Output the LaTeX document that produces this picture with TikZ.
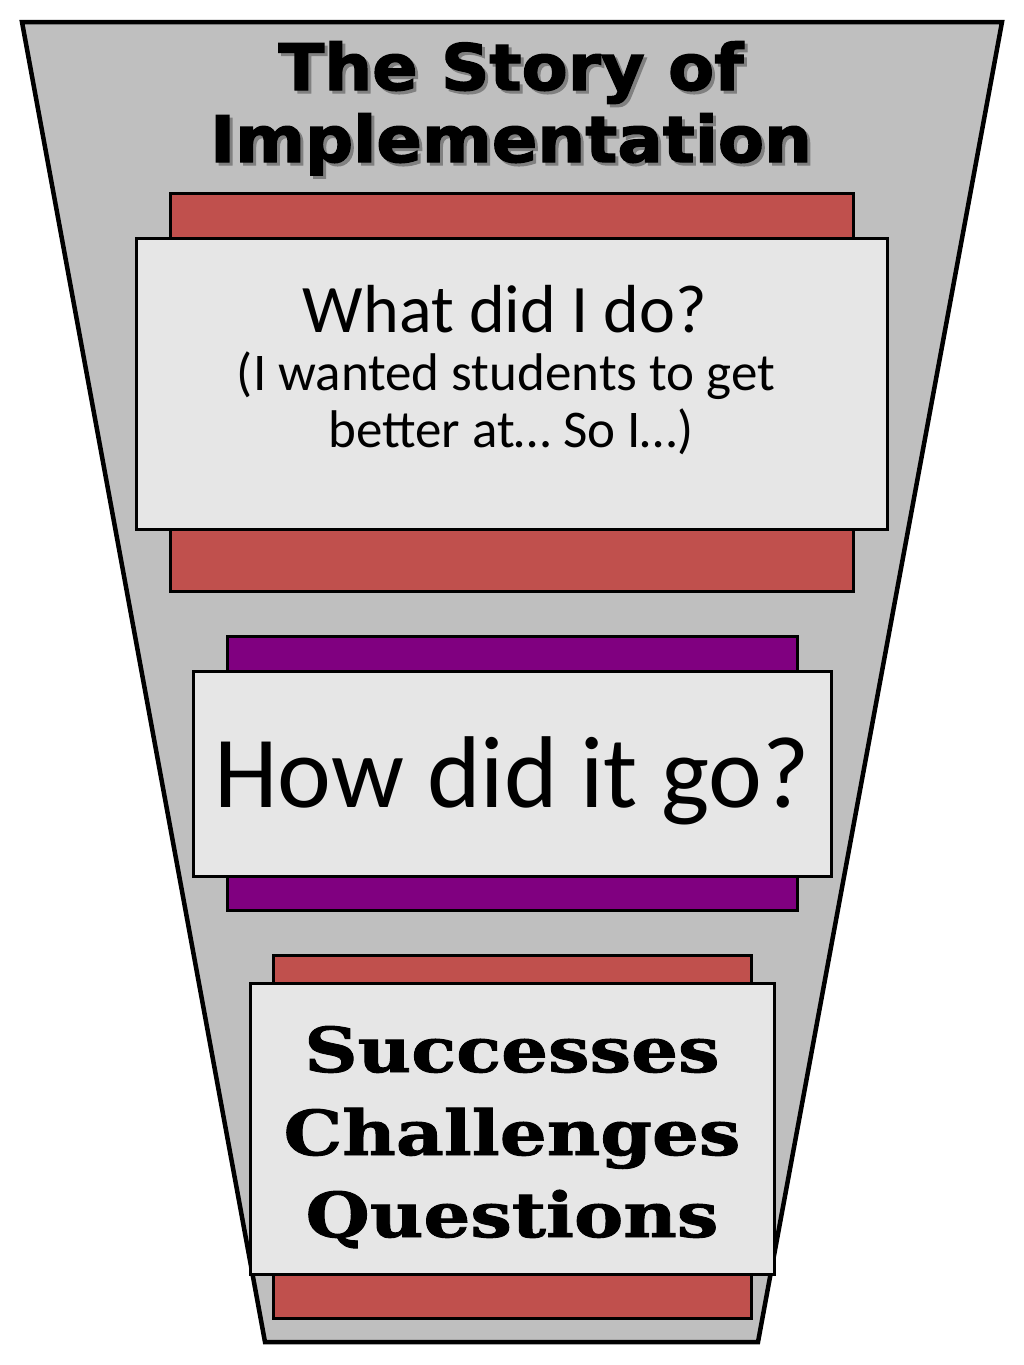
\documentclass[tikz,border=0pt]{standalone}
\usepackage{fontspec}
\setmainfont{Carlito}
\newfontfamily\titlefont{DejaVu Sans Bold}[FakeStretch=1.05,FakeBold=2]
\newfontfamily\slabfont{DejaVu Serif Bold}[FakeStretch=1.19,FakeBold=1.5]
\usetikzlibrary{positioning}
\definecolor{funnelgray}{HTML}{BFBFBF}
\definecolor{cardgray}{HTML}{E6E6E6}
\definecolor{barred}{HTML}{C0504D}
\definecolor{barpurple}{HTML}{800080}
\newcommand{\shadowtext}[1]{\makebox[0pt][l]{\hspace{3pt}\raisebox{-3pt}{\color{gray}#1}}#1}
\tikzset{
  backbar/.style={draw=black,line width=3pt},
  card/.style={draw=black,line width=3pt,fill=cardgray},
  titletext/.style={font=\titlefont\fontsize{64}{64}\selectfont,anchor=base,inner sep=0pt},
  slabtext/.style={font=\slabfont\fontsize{62}{62}\selectfont,anchor=base},
}

\begin{document}
\begin{tikzpicture}[x=1pt,y=-1pt]
  \useasboundingbox (0,0) rectangle (1024,1365);
  % funnel
  \draw[line width=4.5pt,fill=funnelgray,line join=miter]
    (22,22) -- (1002,22) -- (758,1342) -- (265,1342) -- cycle;
  % title
  \node[titletext] (title1) at (511,90) {\shadowtext{The Story of}};
  \node[titletext] (title2) at (511,162) {\shadowtext{Implementation}};
  % first card
  \draw[backbar,fill=barred] (170,193) rectangle (853,591);
  \draw[card] (136,238) rectangle (887,529);
  \node[anchor=base,font=\fontsize{68}{68}\selectfont] (what) at (505,332) {What did I do?};
  \node[anchor=base,font=\fontsize{53}{53}\selectfont] (want) at (506,390) {(I wanted students to get};
  \node[anchor=base,font=\fontsize{53}{53}\selectfont] (better) at (511,447) {better at\dots\ So I\dots)};
  % second card
  \draw[backbar,fill=barpurple] (227,636) rectangle (797,910);
  \draw[card] (193,671) rectangle (831,876);
  \node[anchor=base,font=\fontsize{102}{102}\selectfont] (how) at (512,807) {How did it go?};
  % third card
  \draw[backbar,fill=barred] (273,955) rectangle (751,1318);
  \draw[card] (250,983) rectangle (774,1274);
  \node[slabtext] (succ) at (512,1072) {Successes};
  \node[slabtext] (chal) at (512,1155) {Challenges};
  \node[slabtext] (ques) at (512,1237) {Questions};
\end{tikzpicture}
\end{document}
